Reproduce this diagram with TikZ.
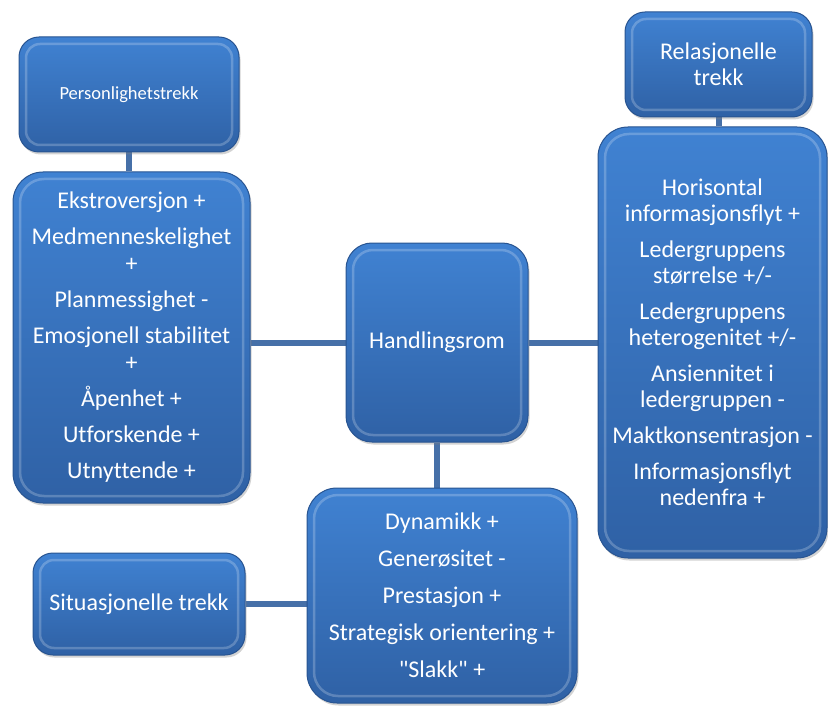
\documentclass[tikz,border=0pt]{standalone}
\usepackage{fontspec}
\setmainfont{Carlito}[Ligatures={NoCommon}]
\usetikzlibrary{shadows,backgrounds}
\definecolor{boxtop}{RGB}{64,130,210}
\definecolor{boxbot}{RGB}{47,97,165}
\definecolor{boxedge}{RGB}{40,84,145}
\definecolor{linkcol}{RGB}{70,112,168}
\tikzset{
  glossy/.style={rectangle, rounded corners=#1, top color=boxtop, bottom color=boxbot,
    draw=boxedge, line width=1pt, text=white, align=center, inner sep=0pt,
    drop shadow={shadow xshift=1.5pt, shadow yshift=-2.5pt, opacity=.35},
    path picture={\draw[white, opacity=.22, line width=2.5pt, rounded corners=#1-6pt]
      ([shift={(7pt,-7pt)}]path picture bounding box.north west) rectangle
      ([shift={(-7pt,7pt)}]path picture bounding box.south east);}},
  glossy/.default=24pt,
  link/.style={linkcol, line width=6pt}
}
\begin{document}
\begin{tikzpicture}[x=1pt,y=-1pt]
      \useasboundingbox (0,0) rectangle (828,706);
      \node[glossy=20pt, minimum width=220, minimum height=115, font=\fontsize{18.5}{22}\selectfont] (pers) at (129,94.5) {Personlighetstrekk};
      \node[glossy=30pt, minimum width=237, minimum height=331, font=\fontsize{24}{27}\selectfont] (traits) at (131.5,337.5)
        {Ekstroversjon +\\[9pt] Medmenneskelighet\\+\\[9pt] Planmessighet -\\[9pt] Emosjonell stabilitet\\+\\[9pt] Åpenhet +\\[9pt] Utforskende +\\[9pt] Utnyttende +};
      \node[glossy=26pt, minimum width=182, minimum height=199, font=\fontsize{24}{27}\selectfont] (hand) at (437,342.5) {Handlingsrom};
      \node[glossy=20pt, minimum width=187, minimum height=105, font=\fontsize{24}{26}\selectfont] (rel) at (718.5,64.5) {Relasjonelle\\trekk};
      \node[glossy=30pt, minimum width=229, minimum height=431, font=\fontsize{24}{26}\selectfont] (relations) at (712.5,342.5)
        {Horisontal\\informasjonsflyt +\\[10pt] Ledergruppens\\størrelse +/-\\[10pt] Ledergruppens\\heterogenitet +/-\\[10pt] Ansiennitet i\\ledergruppen -\\[10pt] Maktkonsentrasjon -\\[10pt] Informasjonsflyt\\nedenfra +};
      \node[glossy=30pt, minimum width=270, minimum height=215, font=\fontsize{24}{27}\selectfont] (situation) at (442,595.5)
        {Dynamikk +\\[10pt] Generøsitet -\\[10pt] Prestasjon +\\[10pt] Strategisk orientering +\\[10pt] \textquotedbl Slakk\textquotedbl{} +};
      \node[glossy=20pt, minimum width=212, minimum height=102, font=\fontsize{24}{26}\selectfont] (sit) at (139,604) {Situasjonelle trekk};
      \begin{scope}[on background layer]
      \draw[link] (pers.south) -- (pers.south |- traits.north);
      \draw[link] (hand.west) -- (hand.west -| traits.east);
      \draw[link] (hand.east) -- (relations.west);
      \draw[link] (hand.south) -- (hand.south |- situation.north);
      \draw[link] (rel.south) -- (rel.south |- relations.north);
      \draw[link] (sit.east) -- (sit.east -| situation.west);
      \end{scope}
    \end{tikzpicture}
\end{document}
